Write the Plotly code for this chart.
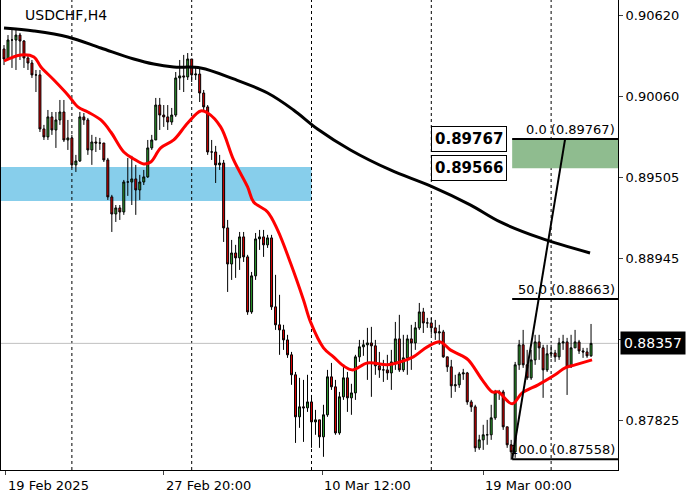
import plotly.graph_objects as go

first_open = 0.90389
close = [.90320,.90451,.90451,.90485,.90444,.90327,.90292,.90210,.90210,.89837,
.89782,.89920,.89830,.89899,.89954,.89761,.89775,.89589,.89616,.89920,
.89899,.89692,.89747,.89740,.89740,.89623,.89368,.89250,.89292,.89264,
.89471,.89471,.89492,.89416,.89471,.89506,.89706,.89761,.90002,.89933,
.89920,.89885,.89933,.90189,.90203,.90196,.90320,.90210,.90216,.90085,
.89989,.89678,.89678,.89589,.89602,.89154,.88905,.88981,.88947,.89092,
.88954,.88574,.88823,.89078,.89092,.89037,.89085,.88609,.88485,.88450,
.88381,.88278,.88140,.87850,.87919,.87912,.87953,.87815,.87829,.87712,
.87864,.88126,.88057,.87739,.87988,.88119,.87981,.88015,.88264,.88333,
.88347,.88360,.88340,.88202,.88174,.88174,.88153,.88229,.88388,.88174,
.88257,.88388,.88360,.88464,.88574,.88498,.88498,.88464,.88429,.88436,
.88264,.88195,.88064,.88071,.88146,.88153,.87953,.87919,.87636,.87691,
.87726,.87726,.87843,.88015,.88022,.87781,.87657,.87608,.88209,.88347,
.88209,.88119,.88243,.88367,.88326,.88174,.88285,.88291,.88264,.88360,
.88367,.88195,.88326,.88367,.88305,.88298,.88271,.88357]
high = [.90416,.90485,.90520,.90534,.90500,.90451,.90348,.90313,.90244,.90244,
.89865,.89968,.89954,.89954,.90037,.90037,.89899,.89796,.89658,.89954,
.89947,.89913,.89796,.89782,.89775,.89727,.89637,.89382,.89312,.89312,
.89485,.89637,.89651,.89589,.89520,.89554,.89761,.89796,.90051,.90051,
.90002,.90002,.89982,.90230,.90313,.90348,.90361,.90313,.90265,.90258,
.90106,.90002,.89761,.89720,.89658,.89623,.89209,.89071,.89037,.89126,
.89126,.88968,.88850,.89119,.89140,.89140,.89106,.89106,.88830,.88692,
.88485,.88416,.88298,.88160,.88119,.88105,.88140,.88001,.87898,.87829,
.87933,.88174,.88222,.88105,.88022,.88195,.88160,.88078,.88278,.88381,
.88381,.88464,.88471,.88381,.88298,.88243,.88278,.88312,.88505,.88554,
.88416,.88416,.88485,.88505,.88636,.88602,.88533,.88533,.88519,.88485,
.88450,.88264,.88243,.88140,.88160,.88181,.88160,.87967,.87933,.87726,
.87795,.87829,.87933,.88036,.88036,.88036,.87760,.87691,.88229,.88381,
.88450,.88312,.88312,.88416,.88416,.88347,.88347,.88347,.88312,.88395,
.88416,.88395,.88416,.88450,.88381,.88326,.88326,.88491]
low = [.90278,.90313,.90258,.90244,.90313,.90258,.90244,.90189,.90092,.89816,
.89761,.89761,.89796,.89706,.89865,.89747,.89692,.89568,.89540,.89609,
.89865,.89658,.89589,.89678,.89692,.89609,.89347,.89126,.89195,.89209,
.89244,.89375,.89312,.89244,.89347,.89450,.89499,.89692,.89761,.89830,
.89851,.89830,.89865,.89920,.90106,.90092,.90175,.90161,.90175,.90023,
.89968,.89658,.89623,.89464,.89554,.89057,.88712,.88795,.88809,.88864,
.88919,.88554,.88561,.88795,.89002,.88954,.89016,.88588,.88450,.88278,
.88312,.88257,.88071,.87670,.87774,.87677,.87884,.87636,.87726,.87636,
.87574,.87850,.88036,.87726,.87726,.87967,.87884,.87864,.87967,.88229,
.88271,.88105,.87988,.88140,.88119,.88091,.88105,.88036,.88174,.88160,
.88160,.88140,.88174,.88312,.88450,.88429,.88464,.88416,.88381,.88347,
.88257,.88160,.87981,.88022,.88050,.88105,.87933,.87884,.87608,.87622,
.87622,.87657,.87691,.87829,.87967,.87760,.87636,.87553,.87567,.88174,
.88188,.88105,.88105,.88209,.88243,.87981,.88160,.88257,.88229,.88243,
.88312,.88001,.88188,.88347,.88284,.88257,.88257,.88264]

ema_idx = [0,4.25,7.5,9.25,12.5,16,18.5,21,24.25,26.75,30,32.5,35,36.75,39.25,42.5,46,49.25,51,54.25,57.5,61,62.5,66,68.5,71.75,75,76.75,80,82.5,85,87.25,91,96,99.25,102.5,106,109.25,111.75,114.25,116.25,119.75,122.25,123.75,127.25,129.75,133.75,138,140.5,143,147.25]
ema_val = [.90306,.90348,.90334,.90265,.90175,.90072,.89989,.89954,.89899,.89816,.89678,.89630,.89595,.89609,.89706,.89761,.89878,.89961,.89947,.89851,.89623,.89437,.89333,.89264,.89140,.88912,.88657,.88505,.88326,.88264,.88202,.88174,.88222,.88209,.88229,.88264,.88333,.88367,.88312,.88278,.88243,.88105,.88022,.88022,.87940,.88015,.88071,.88140,.88188,.88209,.88243]
sma_idx = [0,7.5,16,24.25,32.5,37.5,42.5,49.25,57.5,66,72.5,78.5,86.75,96.75,106.75,116.75,124.25,134.25,146.75]
sma_val = [.90534,.90513,.90472,.90396,.90320,.90285,.90265,.90258,.90182,.90085,.89968,.89837,.89692,.89554,.89444,.89313,.89195,.89085,.88981]

fib_start = 127.25
fib_end = 140.5
fib_high = 0.89767
fib_low = 0.87558
fib_mid = 0.88663
zone_top = 0.89767
zone_bot = 0.89566
blue_top = 0.89575
blue_bot = 0.89340
blue_end = 77
current = 0.88357
grid_idx = [17, 47, 77, 107, 137]
xlab_idx = [0.5, 40, 79.75, 120]
xlab_txt = ["19 Feb 2025", "27 Feb 20:00", "10 Mar 12:00", "19 Mar 00:00"]
ytick_vals = [0.90620, 0.90060, 0.89505, 0.88945, 0.88385, 0.87825]
ytick_txt = ["0.90620", "0.90060", "0.89505", "0.88945", "", "0.87825"]

n = len(close)
idx = list(range(n))
opens = [first_open] + close[:-1]
hi = [max(h, o, c) for h, o, c in zip(high, opens, close)]
lo = [min(l, o, c) for l, o, c in zip(low, opens, close)]

XMIN, XMAX = -0.75, 153.75
YMIN, YMAX = 0.87483, 0.90727
FONT = "DejaVu Sans"

fig = go.Figure()
shapes = []
shapes.append(dict(type="rect", x0=XMIN, x1=blue_end, y0=blue_bot, y1=blue_top,
                   fillcolor="#87ceeb", line_width=0, layer="below"))
for g in grid_idx:
    shapes.append(dict(type="line", x0=g, x1=g, y0=YMIN, y1=YMAX,
                       line=dict(color="black", width=1, dash="3px,3px"), layer="below"))
shapes.append(dict(type="line", x0=XMIN, x1=XMAX, y0=current, y1=current,
                   line=dict(color="#c0c0c0", width=1), layer="below"))
shapes.append(dict(type="rect", x0=fib_start, x1=XMAX, y0=zone_bot, y1=zone_top,
                   fillcolor="#8fbc8f", line_width=0, layer="below"))
for v in [fib_high, fib_mid, fib_low]:
    shapes.append(dict(type="line", x0=fib_start, x1=XMAX, y0=v, y1=v,
                       line=dict(color="black", width=2)))
shapes.append(dict(type="line", x0=fib_start, x1=fib_end, y0=fib_low, y1=fib_high,
                   line=dict(color="black", width=2)))

fig.add_trace(go.Candlestick(x=idx, open=opens, high=hi, low=lo, close=close,
    increasing=dict(line=dict(color="black", width=1), fillcolor="#2ea02e"),
    decreasing=dict(line=dict(color="black", width=1), fillcolor="#e00000"),
    whiskerwidth=0, showlegend=False, hoverinfo="skip"))
fig.add_trace(go.Scatter(x=sma_idx, y=sma_val, mode="lines", line=dict(color="black", width=3, shape="spline"),
                         showlegend=False, hoverinfo="skip"))
fig.add_trace(go.Scatter(x=ema_idx, y=ema_val, mode="lines", line=dict(color="#ff0000", width=3, shape="spline"),
                         showlegend=False, hoverinfo="skip"))

ann = []
ann.append(dict(x=0.035, y=0.99, xref="paper", yref="paper", text="USDCHF,H4", showarrow=False,
                xanchor="left", yanchor="top", font=dict(family=FONT, size=14, color="black")))
for v, t in [(fib_high, "0.0 (0.89767)"), (fib_mid, "50.0 (0.88663)"), (fib_low, "100.0 (0.87558)")]:
    ann.append(dict(x=XMAX - 0.3, y=v, text=t, showarrow=False, xanchor="right", yanchor="bottom",
                    font=dict(family=FONT, size=13, color="black")))
for v in [zone_top, zone_bot]:
    ann.append(dict(x=fib_start - 1.2, y=v, text="<b>%.5f</b>" % v, showarrow=False, xanchor="right",
                    yanchor="middle", bgcolor="white", bordercolor="black", borderwidth=1, borderpad=3,
                    font=dict(family=FONT, size=15, color="black")))
ann.append(dict(x=1.003, y=current, xref="paper", text="%.5f" % current, showarrow=False, xanchor="left",
                yanchor="middle", bgcolor="black", borderpad=3,
                font=dict(family=FONT, size=14, color="white")))
for xi, t in zip(xlab_idx, xlab_txt):
    ann.append(dict(x=xi, y=-0.012, yref="paper", text=t, showarrow=False, xanchor="left", yanchor="top",
                    font=dict(family=FONT, size=13, color="black")))

fig.update_layout(width=700, height=500, margin=dict(l=1, r=82, t=0, b=30),
                  paper_bgcolor="white", plot_bgcolor="white", shapes=shapes, annotations=ann,
                  xaxis=dict(range=[XMIN, XMAX], rangeslider=dict(visible=False), showgrid=False, zeroline=False,
                             tickvals=xlab_idx, ticktext=[""] * 4, ticks="outside", ticklen=4,
                             showline=True, linecolor="black", linewidth=1, mirror=True),
                  yaxis=dict(range=[YMIN, YMAX], side="right", showgrid=False, zeroline=False,
                             tickvals=ytick_vals, ticktext=ytick_txt,
                             ticks="outside", ticklen=4, showline=True, linecolor="black", linewidth=1, mirror=True,
                             tickfont=dict(family=FONT, size=13, color="black")))
fig.write_html("out.html", config={"displayModeBar": False},
               post_script="document.body.style.margin='0';document.body.style.overflow='hidden';")
